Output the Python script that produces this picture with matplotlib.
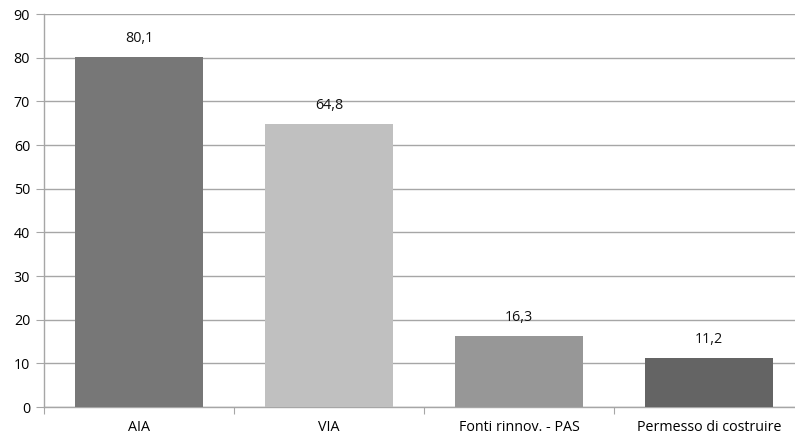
import matplotlib.pyplot as plt

# categorie e valori (giorni medi)
categorie = ["AIA", "VIA", "Fonti rinnov. - PAS", "Permesso di costruire"]
valori = [80.1, 64.8, 16.3, 11.2]
colori = ["#777777", "#c0c0c0", "#979797", "#646464"]

plt.rcParams["font.family"] = ["Open Sans", "DejaVu Sans"]

fig = plt.figure(figsize=(7.95, 4.4), dpi=100)
# l'asse si estende oltre il bordo destro della figura
ax = fig.add_axes([44 / 795, 33 / 440, 760 / 795, 393 / 440])

x = range(len(categorie))
bars = ax.bar(x, valori, width=0.67, color=colori, zorder=3)

for b, v in zip(bars, valori):
    ax.annotate(f"{v:.1f}".replace(".", ","),
                (b.get_x() + b.get_width() / 2, v),
                xytext=(0, 8), textcoords="offset points",
                ha="center", va="bottom", fontsize=10.3, color="#111111")

ax.set_xlim(-0.5, len(categorie) - 0.5)
ax.set_ylim(0, 90)
ax.set_yticks(range(0, 91, 10))
ax.grid(axis="y", color="#a6a6a6", linewidth=1, zorder=0)

ax.set_xticks([i - 0.5 for i in range(len(categorie))])
ax.set_xticklabels([])
ax.set_xticks(list(x), minor=True)
ax.set_xticklabels(categorie, minor=True)
ax.tick_params(axis="x", which="minor", length=0, pad=9, labelsize=10.3)
ax.tick_params(axis="x", which="major", length=5, color="#a6a6a6", direction="out")
ax.tick_params(axis="y", length=6, color="#a6a6a6", labelsize=10.3, pad=4)

for s in ["top", "right"]:
    ax.spines[s].set_visible(False)
for s in ["left", "bottom"]:
    ax.spines[s].set_color("#a6a6a6")
    ax.spines[s].set_linewidth(1)

fig.savefig("out.png", dpi=100)
